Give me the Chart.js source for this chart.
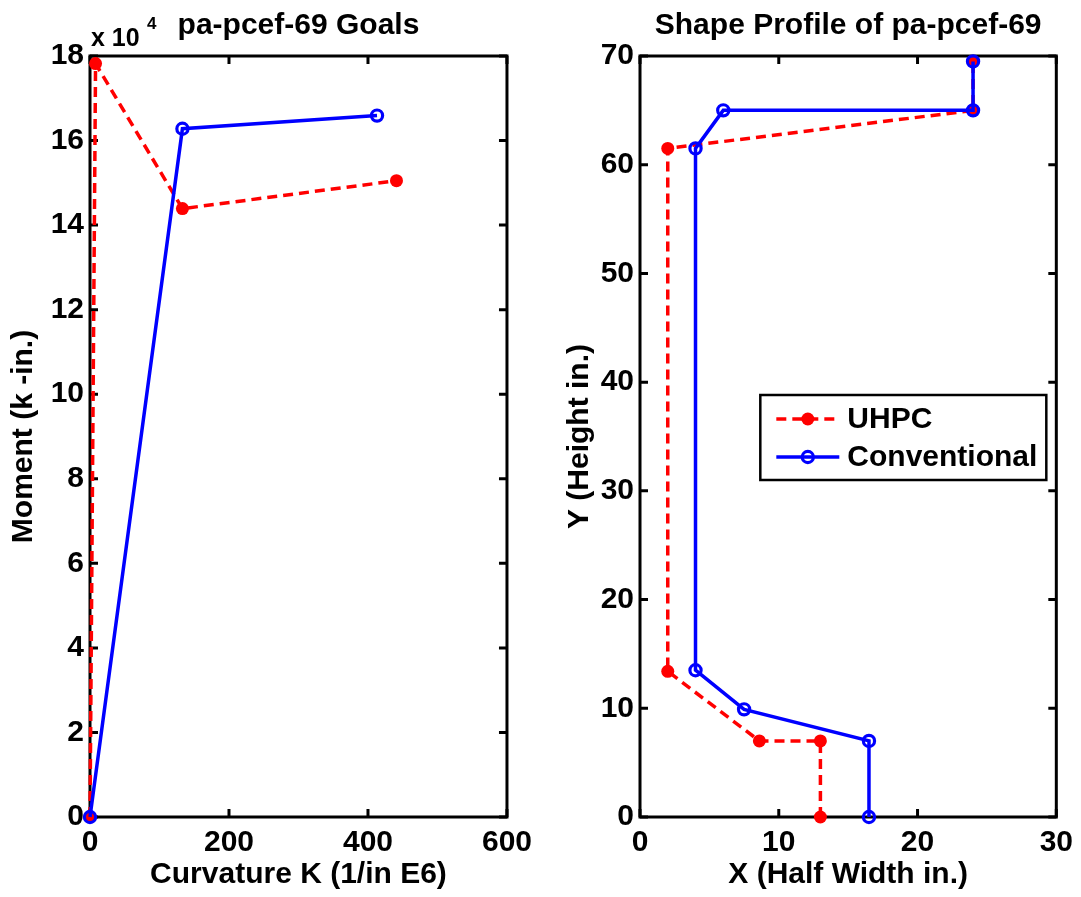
<!DOCTYPE html>
<html>
<head>
<meta charset="utf-8">
<script src="https://cdn.jsdelivr.net/npm/chart.js@4.4.1/dist/chart.umd.min.js"></script>
<style>
  html, body { margin: 0; padding: 0; background: #fff; }
  #wrap { position: relative; width: 1081px; height: 897px; overflow: hidden; }
  canvas { position: absolute; top: 0; }
</style>
</head>
<body>
<div id="wrap">
  <canvas id="goals" width="540" height="897" style="left:0"></canvas>
  <canvas id="shape" width="541" height="897" style="left:540px"></canvas>
</div>
<script>
// Moment-curvature goals (curvature in 1/in E6, moment in k-in.)
const curvatureUHPC = [0, 8, 133, 441];
const momentUHPC    = [0, 178200, 143900, 150500];
const curvatureConv = [0, 133, 413];
const momentConv    = [0, 162800, 165900];
const curvatureTicks = [0, 200, 400, 600];
const momentTicks    = [0, 20000, 40000, 60000, 80000, 100000, 120000, 140000, 160000, 180000];

// Section shape profile (half width vs height, inches)
const halfWidthUHPC = [13, 13, 8.6, 2, 2, 24, 24];
const heightUHPC    = [0, 7, 7, 13.4, 61.5, 65, 69.5];
const halfWidthConv = [16.5, 16.5, 7.5, 4, 4, 6, 24, 24];
const heightConv    = [0, 7, 9.9, 13.5, 61.5, 65, 65, 69.5];
const halfWidthTicks = [0, 10, 20, 30];
const heightTicks    = [0, 10, 20, 30, 40, 50, 60, 70];

const seriesNames = ['UHPC', 'Conventional'];
const FONT = '"Liberation Sans", Arial, Helvetica, sans-serif';

Chart.defaults.font.family = FONT;
Chart.defaults.font.weight = 'bold';
Chart.defaults.color = '#000';

const pairs = (xs, ys) => xs.map((v, i) => ({ x: v, y: ys[i] }));

const uhpcStyle = {
  borderColor: '#ff0000', borderWidth: 3.5, borderDash: [10, 6],
  pointRadius: 6.5, pointHoverRadius: 6.5, pointBackgroundColor: '#ff0000',
  pointBorderColor: '#ff0000', pointBorderWidth: 0, pointStyle: 'circle',
  tension: 0, fill: false, clip: false, order: 1
};
const convStyle = {
  borderColor: '#0000ff', borderWidth: 3.5,
  pointRadius: 5.6, pointHoverRadius: 5.6, pointBackgroundColor: 'rgba(0,0,0,0)',
  pointBorderColor: '#0000ff', pointBorderWidth: 3.2, pointStyle: 'circle',
  tension: 0, fill: false, clip: false, order: 0
};

// Box frame with inward tick marks on all four sides
const framePlugin = {
  id: 'boxFrame',
  beforeDatasetsDraw(chart) {
    const { ctx, chartArea: a, scales: { x, y } } = chart;
    const len = 8;
    ctx.save();
    ctx.strokeStyle = '#000';
    ctx.lineWidth = 3;
    ctx.beginPath();
    x.ticks.forEach(t => {
      const px = x.getPixelForValue(t.value);
      ctx.moveTo(px, a.bottom); ctx.lineTo(px, a.bottom - len);
      ctx.moveTo(px, a.top); ctx.lineTo(px, a.top + len);
    });
    y.ticks.forEach(t => {
      const py = y.getPixelForValue(t.value);
      ctx.moveTo(a.left, py); ctx.lineTo(a.left + len, py);
      ctx.moveTo(a.right, py); ctx.lineTo(a.right - len, py);
    });
    ctx.stroke();
    ctx.lineJoin = 'miter';
    ctx.strokeRect(a.left, a.top, a.right - a.left, a.bottom - a.top);
    ctx.restore();
  }
};

// Heading above the plot area, plus optional axis multiplier
const headingPlugin = {
  id: 'heading',
  afterDraw(chart, args, opts) {
    const { ctx, chartArea: a } = chart;
    ctx.save();
    ctx.fillStyle = '#000';
    ctx.textBaseline = 'alphabetic';
    ctx.textAlign = 'center';
    ctx.font = 'bold 30px ' + FONT;
    ctx.fillText(opts.text, (a.left + a.right) / 2, 34);
    if (opts.multiplier) {
      ctx.textAlign = 'left';
      ctx.font = 'bold 25px ' + FONT;
      ctx.fillText('x 10', a.left + 1, 46);
      ctx.font = 'bold 17px ' + FONT;
      ctx.fillText(opts.multiplier, a.left + 57, 29);
    }
    ctx.restore();
  }
};

// Boxed legend showing line style and marker of each series
const boxLegendPlugin = {
  id: 'boxLegend',
  afterDraw(chart, args, opts) {
    if (!opts.show) return;
    const { ctx, chartArea: a } = chart;
    const right = a.right - 10, left = right - 286;
    const top = 395, bottom = 480;
    ctx.save();
    ctx.fillStyle = '#fff';
    ctx.fillRect(left, top, right - left, bottom - top);
    ctx.strokeStyle = '#000';
    ctx.lineWidth = 2.5;
    ctx.strokeRect(left, top, right - left, bottom - top);
    const rows = [top + 24, top + 62];
    chart.data.datasets.forEach((ds, i) => {
      const yy = rows[i];
      const x0 = left + 16, x1 = left + 79, xm = (x0 + x1) / 2;
      ctx.strokeStyle = ds.borderColor;
      ctx.lineWidth = ds.borderWidth;
      ctx.setLineDash(ds.borderDash || []);
      ctx.beginPath(); ctx.moveTo(x0, yy); ctx.lineTo(x1, yy); ctx.stroke();
      ctx.setLineDash([]);
      ctx.beginPath();
      ctx.arc(xm, yy, ds.pointRadius, 0, Math.PI * 2);
      if (ds.pointBorderWidth > 0) {
        ctx.lineWidth = ds.pointBorderWidth;
        ctx.strokeStyle = ds.pointBorderColor;
        ctx.stroke();
      } else {
        ctx.fillStyle = ds.pointBackgroundColor;
        ctx.fill();
      }
      ctx.fillStyle = '#000';
      ctx.font = 'bold 30px ' + FONT;
      ctx.textAlign = 'left';
      ctx.textBaseline = 'middle';
      ctx.fillText(ds.label, left + 87, yy + 1);
    });
    ctx.restore();
  }
};

function axis(min, max, ticks, title, fixSize, titlePad, horizontal, fmt) {
  return {
    type: 'linear', min, max,
    afterBuildTicks: s => { s.ticks = ticks.map(v => ({ value: v })); },
    afterFit: s => { if (horizontal) s.height = fixSize; else s.width = fixSize; },
    grid: { display: false, drawTicks: false },
    border: { display: false },
    ticks: {
      font: { size: 30, weight: 'bold' }, color: '#000',
      padding: horizontal ? 8 : 6, maxRotation: 0, autoSkip: false,
      callback: fmt || (v => v)
    },
    title: {
      display: true, text: title, color: '#000',
      font: { size: 30, weight: 'bold' }, padding: titlePad
    }
  };
}

function makeChart(id, datasets, xAxis, yAxis, rightPad, heading, legendShow) {
  return new Chart(document.getElementById(id), {
    type: 'line',
    data: { datasets },
    options: {
      responsive: false, animation: false, events: [],
      layout: { padding: { top: 56, right: rightPad, left: 0, bottom: 0 } },
      scales: { x: xAxis, y: yAxis },
      plugins: {
        legend: { display: false }, tooltip: { enabled: false }, title: { display: false },
        heading, boxLegend: { show: legendShow }
      }
    },
    plugins: [framePlugin, headingPlugin, boxLegendPlugin]
  });
}

makeChart('goals',
  [
    Object.assign({ label: seriesNames[0], data: pairs(curvatureUHPC, momentUHPC) }, uhpcStyle),
    Object.assign({ label: seriesNames[1], data: pairs(curvatureConv, momentConv) }, convStyle)
  ],
  axis(0, 600, curvatureTicks, 'Curvature K (1/in E6)', 80, { top: 0, bottom: 4 }, true),
  axis(0, 180000, momentTicks, 'Moment (k -in.)', 90, { top: 6, bottom: 0 }, false, v => v / 10000),
  32, { text: 'pa-pcef-69 Goals', multiplier: '4' }, false);

makeChart('shape',
  [
    Object.assign({ label: seriesNames[0], data: pairs(halfWidthUHPC, heightUHPC) }, uhpcStyle),
    Object.assign({ label: seriesNames[1], data: pairs(halfWidthConv, heightConv) }, convStyle)
  ],
  axis(0, 30, halfWidthTicks, 'X (Half Width in.)', 80, { top: 0, bottom: 4 }, true),
  axis(0, 70, heightTicks, 'Y (Height in.)', 100, { top: 22, bottom: 0 }, false),
  24, { text: 'Shape Profile of pa-pcef-69' }, true);
</script>
</body>
</html>
